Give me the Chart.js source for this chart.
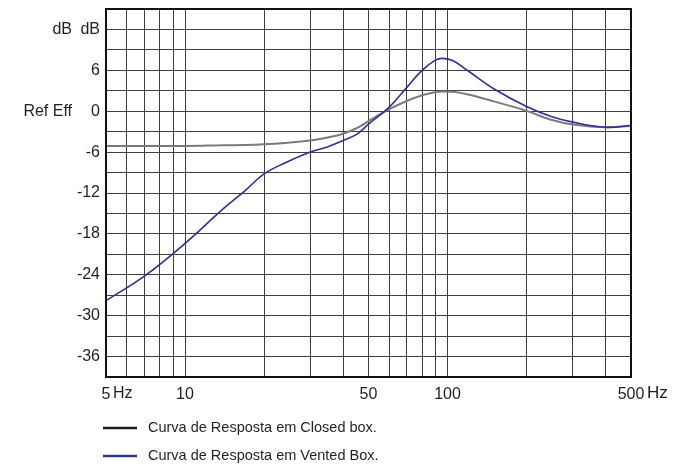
<!DOCTYPE html>
<html>
<head>
<meta charset="utf-8">
<script src="https://cdn.jsdelivr.net/npm/chart.js@4"></script>
<style>
  html, body { margin: 0; padding: 0; background: #fff; }
  #wrap { width: 687px; height: 466px; }
</style>
</head>
<body>
<div id="wrap"><canvas id="response-chart" width="687" height="466"></canvas></div>
<script>
// --- Data ---
const freqs      = [5, 7, 10, 14, 17, 20, 24, 30, 35, 40, 45, 50, 60, 70, 80, 90, 96, 105, 120, 150, 200, 250, 300, 400, 500];
const closedBox  = [-5.1, -5.1, -5.1, -5.0, -4.95, -4.85, -4.65, -4.3, -3.85, -3.3, -2.5, -1.45, 0.3, 1.5, 2.35, 2.8, 2.9, 2.85, 2.45, 1.45, 0.05, -1.3, -1.95, -2.35, -2.15];
const ventedBox  = [-27.8, -24.2, -19.4, -14.3, -11.6, -9.2, -7.6, -6.0, -5.2, -4.3, -3.4, -1.9, 0.6, 3.5, 6.0, 7.5, 7.75, 7.4, 5.9, 3.3, 0.7, -0.8, -1.6, -2.35, -2.1];
const seriesNames  = ['Curva de Resposta em Closed box.', 'Curva de Resposta em Vented Box.'];
const seriesColors = ['#7b7b7b', '#2e3192'];
const legendColors = ['#1f1f1f', '#2e3192'];

const xTickValues = [5, 6, 7, 8, 9, 10, 20, 30, 40, 50, 60, 70, 80, 90, 100, 200, 300, 400, 500];
const xTickLabels = { 5: '5', 10: '10', 50: '50', 100: '100', 500: '500' };
const yTickLabels = { 12: 'dB', 6: '6', 0: '0', '-6': '-6', '-12': '-12', '-18': '-18', '-24': '-24', '-30': '-30', '-36': '-36' };
const yMin = -39, yMax = 15, yStep = 3;

const textColor = '#231f20';
const gridColor = '#3f3f3f';
const narrowFont = "'Liberation Sans Narrow', 'Arial Narrow', sans-serif";
const regularFont = "'Liberation Sans', Arial, sans-serif";

// extra labels, frame and legend drawn on top of the chart
const extras = {
    id: 'extras',
    afterDraw(chart) {
        const ctx = chart.ctx;
        const area = chart.chartArea;
        const x = chart.scales.x, y = chart.scales.y;
        ctx.save();

        // frame
        ctx.strokeStyle = '#111';
        ctx.lineWidth = 2;
        ctx.strokeRect(area.left, area.top, area.right - area.left, area.bottom - area.top);

        // left side labels
        ctx.fillStyle = textColor;
        ctx.textBaseline = 'middle';
        ctx.textAlign = 'right';
        ctx.font = '16px ' + regularFont;
        ctx.fillText('dB', 72, y.getPixelForValue(12));
        ctx.fillText('Ref Eff', 72, y.getPixelForValue(0));

        // units after the first and last x labels
        const labelY = area.bottom + 17;
        ctx.textAlign = 'left';
        ctx.font = '16px ' + narrowFont;
        ctx.fillText('Hz', x.getPixelForValue(5) + 7, labelY);
        ctx.font = '17px ' + regularFont;
        ctx.fillText('Hz', x.getPixelForValue(500) + 16, labelY - 1);

        // legend
        ctx.font = '14.5px ' + regularFont;
        seriesNames.forEach((name, i) => {
            const ly = 428 + i * 28;
            ctx.strokeStyle = legendColors[i];
            ctx.lineWidth = 2.5;
            ctx.beginPath();
            ctx.moveTo(103, ly);
            ctx.lineTo(137, ly);
            ctx.stroke();
            ctx.fillStyle = textColor;
            ctx.fillText(name, 148, ly);
        });
        ctx.restore();
    }
};

const ctx = document.getElementById('response-chart').getContext('2d');
const responseChart = new Chart(ctx, {
    type: 'line',
    data: {
        datasets: [
            {
                label: seriesNames[0],
                data: freqs.map((f, i) => ({ x: f, y: closedBox[i] })),
                borderColor: seriesColors[0],
                borderWidth: 2,
                pointRadius: 0,
                tension: 0.4,
                order: 2
            },
            {
                label: seriesNames[1],
                data: freqs.map((f, i) => ({ x: f, y: ventedBox[i] })),
                borderColor: seriesColors[1],
                borderWidth: 1.6,
                pointRadius: 0,
                tension: 0.4,
                order: 1
            }
        ]
    },
    options: {
        responsive: false,
        animation: false,
        devicePixelRatio: 1,
        layout: { padding: { top: 9, right: 56, left: 0, bottom: 0 } },
        plugins: { legend: { display: false }, tooltip: { enabled: false } },
        scales: {
            x: {
                type: 'logarithmic',
                min: 5,
                max: 500,
                afterBuildTicks: (scale) => { scale.ticks = xTickValues.map(v => ({ value: v })); },
                afterFit: (scale) => {
                    scale.height = 89;
                    scale.paddingLeft = 0;
                    scale.paddingRight = 0;
                },
                grid: { color: gridColor, lineWidth: 1, drawTicks: false },
                border: { display: false },
                ticks: {
                    autoSkip: false,
                    maxRotation: 0,
                    padding: 8,
                    color: textColor,
                    font: { family: narrowFont, size: 16 },
                    callback: (v) => xTickLabels[v] || ''
                }
            },
            y: {
                min: yMin,
                max: yMax,
                afterFit: (scale) => {
                    scale.width = 106;
                    scale.paddingTop = 0;
                    scale.paddingBottom = 0;
                },
                grid: { color: gridColor, lineWidth: 1, drawTicks: false },
                border: { display: false },
                ticks: {
                    stepSize: yStep,
                    autoSkip: false,
                    padding: 6,
                    color: textColor,
                    font: { family: narrowFont, size: 16 },
                    callback: (v) => yTickLabels[v] || ''
                }
            }
        }
    },
    plugins: [extras]
});
</script>
</body>
</html>
